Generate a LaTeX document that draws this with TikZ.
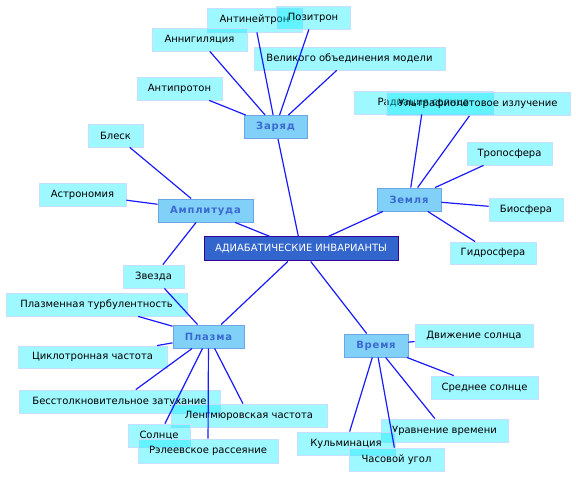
\documentclass[tikz,border=0pt]{standalone}
\usepackage{fontspec}
\setmainfont{DejaVu Sans}
\definecolor{leafcol}{RGB}{0,236,255}
\definecolor{leafline}{RGB}{200,222,255}
\definecolor{hubcol}{RGB}{128,208,248}
\definecolor{hubline}{RGB}{110,165,230}
\definecolor{hubtext}{RGB}{58,106,208}
\definecolor{rootcol}{RGB}{51,102,204}
\definecolor{rootline}{RGB}{51,0,153}
\definecolor{linkcol}{RGB}{26,26,255}

\begin{document}
\begin{tikzpicture}[x=1pt,y=-1pt,
  leaf/.style={draw=leafline,fill=leafcol,fill opacity=0.38,text opacity=1,line width=0.8pt,minimum height=23pt,inner sep=0pt,font=\fontsize{10}{12}\selectfont},
  hub/.style={draw=hubline,fill=hubcol,line width=0.9pt,minimum height=23pt,inner sep=0pt,text=hubtext,font=\fontsize{10}{12}\selectfont\bfseries\addfontfeatures{LetterSpace=8}},
  root/.style={draw=rootline,fill=rootcol,line width=1pt,minimum width=194pt,minimum height=24pt,inner sep=0pt,text=white,font=\fontsize{10}{12}\selectfont},
  link/.style={linkcol,line width=1.2pt}
]
\useasboundingbox (0,0) rectangle (576,478);

\node[root] (root) at (301,249) {АДИАБАТИЧЕСКИЕ ИНВАРИАНТЫ};

\node[hub,minimum width=63pt] (charge) at (275.5,127) {Заряд};
\node[hub,minimum width=64pt] (earth) at (409,199.5) {Земля};
\node[hub,minimum width=95pt] (amplitude) at (205.5,210.5) {Амплитуда};
\node[hub,minimum width=71pt] (plasma) at (208.5,336.5) {Плазма};
\node[hub,minimum width=64pt] (time) at (376,345.5) {Время};

\node[leaf,minimum width=95pt,minimum height=24pt] (antineutron) at (254.5,20) {Антинейтрон};
\node[leaf,minimum width=74pt] (positron) at (313,17.5) {Позитрон};
\node[leaf,minimum width=95pt] (annihilation) at (199.5,39.5) {Аннигиляция};
\node[leaf,minimum width=191pt] (gut) at (349.5,58.5) {Великого объединения модели};
\node[leaf,minimum width=85pt] (antiproton) at (179.5,88.5) {Антипротон};

\node[leaf,minimum width=139pt] (radiation) at (423.5,102.5) {Радиация солнца};
\node[leaf,minimum width=184pt] (uv) at (478,104) {Ультрафиолетовое излучение};
\node[leaf,minimum width=85pt] (troposphere) at (509.5,153.5) {Тропосфера};
\node[leaf,minimum width=74pt] (biosphere) at (526,209.5) {Биосфера};
\node[leaf,minimum width=86pt,minimum height=22pt] (hydrosphere) at (493,253) {Гидросфера};

\node[leaf,minimum width=55pt] (shine) at (115.5,135.5) {Блеск};
\node[leaf,minimum width=87pt] (astronomy) at (82.5,194.5) {Астрономия};
\node[leaf,minimum width=61pt] (star) at (153.5,276.5) {Звезда};

\node[leaf,minimum width=181pt] (turbulence) at (96.5,304.5) {Плазменная турбулентность};
\node[leaf,minimum width=149pt,minimum height=22pt] (cyclotron) at (92.5,357) {Циклотронная частота};
\node[leaf,minimum width=201pt] (damping) at (119.5,401.5) {Бесстолкновительное затухание};
\node[leaf,minimum width=156pt] (langmuir) at (249,415.5) {Ленгмюровская частота};
\node[leaf,minimum width=62pt] (sun) at (159,435.5) {Солнце};
\node[leaf,minimum width=140pt,minimum height=24pt] (rayleigh) at (208,451) {Рэлеевское рассеяние};

\node[leaf,minimum width=118pt] (sunmotion) at (474,335.5) {Движение солнца};
\node[leaf,minimum width=107pt] (meansun) at (484.5,387.5) {Среднее солнце};
\node[leaf,minimum width=127pt] (eqtime) at (444.5,430.5) {Уравнение времени};
\node[leaf,minimum width=98pt] (culmination) at (346,443.5) {Кульминация};
\node[leaf,minimum width=95pt] (hourangle) at (396.5,459.5) {Часовой угол};

\draw[link] (root) -- (charge);
\draw[link] (root) -- (earth);
\draw[link] (root) -- (amplitude);
\draw[link] (root) -- (plasma);
\draw[link] (root) -- (time);

\draw[link] (charge) -- (antineutron);
\draw[link] (charge) -- (positron);
\draw[link] (charge) -- (annihilation);
\draw[link] (charge) -- (gut);
\draw[link] (charge) -- (antiproton);

\draw[link] (earth) -- (radiation);
\draw[link] (earth) -- (uv);
\draw[link] (earth) -- (troposphere);
\draw[link] (earth) -- (biosphere);
\draw[link] (earth) -- (hydrosphere);

\draw[link] (amplitude) -- (shine);
\draw[link] (amplitude) -- (astronomy);
\draw[link] (amplitude) -- (star);
\draw[link] (plasma) -- (star);

\draw[link] (plasma) -- (turbulence);
\draw[link] (plasma) -- (cyclotron);
\draw[link] (plasma) -- (damping);
\draw[link] (plasma) -- (langmuir);
\draw[link] (plasma) -- (sun);
\draw[link] (plasma) -- (rayleigh);

\draw[link] (time) -- (sunmotion);
\draw[link] (time) -- (meansun);
\draw[link] (time) -- (eqtime);
\draw[link] (time) -- (culmination);
\draw[link] (time) -- (hourangle);
\end{tikzpicture}
\end{document}
